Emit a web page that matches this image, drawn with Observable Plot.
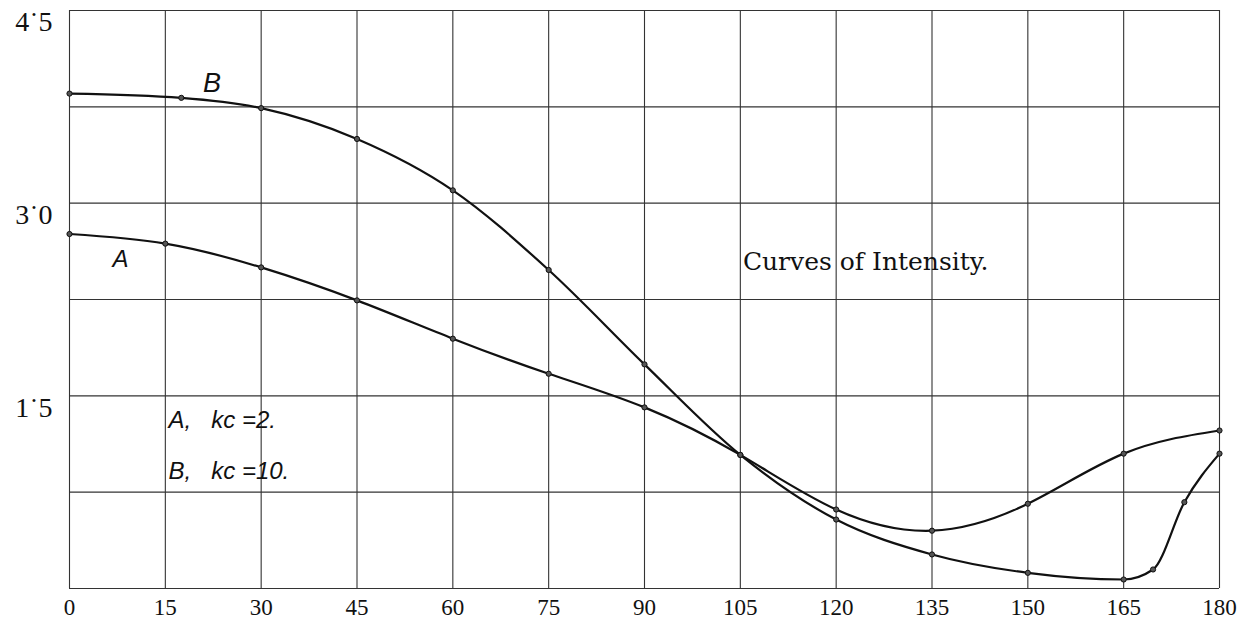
<!DOCTYPE html>
<html>
<head>
<meta charset="utf-8">
<script src="https://cdn.jsdelivr.net/npm/d3@7"></script>
<script src="https://cdn.jsdelivr.net/npm/@observablehq/plot@0.6"></script>
<style>
  html, body { margin: 0; padding: 0; background: #fff; }
  #chart svg { display: block; }
</style>
</head>
<body>
<div id="chart"></div>
<script>
// Curve A (kc = 2)
const angleA = [0, 15, 30, 45, 60, 75, 90, 105, 120, 135, 150, 165, 180];
const valueA = [2.76, 2.685, 2.50, 2.243, 1.945, 1.672, 1.41, 1.04, 0.615, 0.45, 0.66, 1.05, 1.23];
// Curve B (kc = 10)
const angleB = [0, 17.5, 30, 45, 60, 75, 90, 105, 120, 135, 150, 165, 169.6, 174.5, 180];
const valueB = [3.853, 3.82, 3.74, 3.50, 3.10, 2.48, 1.745, 1.04, 0.537, 0.265, 0.122, 0.07, 0.148, 0.672, 1.05];

const xTicks = [0, 15, 30, 45, 60, 75, 90, 105, 120, 135, 150, 165, 180];
const xTickLabels = ["0", "15", "30", "45", "60", "75", "90", "105", "120", "135", "150", "165", "180"];
const yGrid = [0, 0.75, 1.5, 2.25, 3.0, 3.75, 4.5];
const yTicks = [1.5, 3.0, 4.5];
const yTickLabels = ["1˙5", "3˙0", "4˙5"];

const notes = [
  {x: 22.3, y: 3.93, text: "B", size: 27, font: "Liberation Sans", style: "italic", anchor: "middle"},
  {x: 8.0, y: 2.56, text: "A", size: 24, font: "Liberation Sans", style: "italic", anchor: "middle"},
  {x: 105.4, y: 2.54, text: "Curves of Intensity.", size: 25, font: "DejaVu Serif", style: "normal", anchor: "start"},
  {x: 15.5, y: 1.31, text: "A,   kc =2.", size: 24, font: "Liberation Sans", style: "italic", anchor: "start"},
  {x: 15.5, y: 0.91, text: "B,   kc =10.", size: 24, font: "Liberation Sans", style: "italic", anchor: "start"}
];

const A = angleA.map((a, i) => ({angle: a, value: valueA[i]}));
const B = angleB.map((a, i) => ({angle: a, value: valueB[i]}));
const yLab = yTicks.map((v, i) => ({value: v, label: yTickLabels[i]}));

const chart = Plot.plot({
  width: 1244,
  height: 620,
  marginLeft: 69,
  marginRight: 25,
  marginTop: 10,
  marginBottom: 32,
  style: {background: "#fff", fontFamily: "Liberation Serif", fontSize: "23px", color: "#111"},
  x: {domain: [0, 180]},
  y: {domain: [0, 4.5], axis: null},
  marks: [
    Plot.ruleX(xTicks, {stroke: "#333", strokeWidth: 1.1}),
    Plot.ruleY(yGrid, {stroke: "#333", strokeWidth: 1.1}),
    Plot.line(A, {x: "angle", y: "value", curve: "natural", stroke: "#111", strokeWidth: 2.2}),
    Plot.line(B, {x: "angle", y: "value", curve: "monotone-x", stroke: "#111", strokeWidth: 2.2}),
    Plot.dot(A, {x: "angle", y: "value", r: 2.6, fill: "#555", stroke: "#111", strokeWidth: 1}),
    Plot.dot(B, {x: "angle", y: "value", r: 2.6, fill: "#555", stroke: "#111", strokeWidth: 1}),
    Plot.axisX({ticks: xTicks, tickSize: 0, tickPadding: 10, fontSize: 23, tickFormat: (d) => xTickLabels[xTicks.indexOf(d)], label: null}),
    Plot.text(yLab, {x: () => 0, y: "value", text: "label", dx: -17, dy: 12, textAnchor: "end", fontSize: 28, fontFamily: "Liberation Serif", fill: "#111"}),
    ...notes.map((n) => Plot.text([n], {x: "x", y: "y", text: "text", fontSize: n.size, fontFamily: n.font, fontStyle: n.style, textAnchor: n.anchor, fill: "#111"}))
  ]
});
document.getElementById("chart").appendChild(chart);
</script>
</body>
</html>
